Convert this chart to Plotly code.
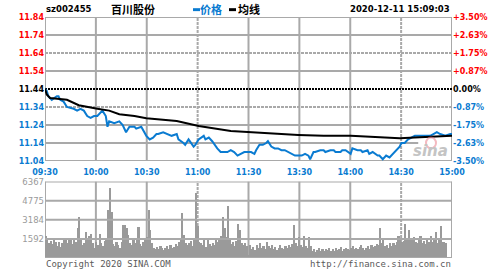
import plotly.graph_objects as go

# ---------------- data ----------------
prev_close = 11.44
stock_code = "sz002455"
stock_name = "百川股份"
timestamp = "2020-12-11 15:09:03"

price_idx = [0, 1, 2, 4, 7, 8, 9, 11, 13, 17, 19, 21, 23, 25, 27, 29, 31, 33, 34, 36, 37, 38, 41, 44, 46, 48,
             50, 53, 54, 57, 59, 60, 62, 64, 66, 67, 70, 73, 75, 78, 79, 82, 83, 85, 88, 89, 91, 94, 95, 97,
             99, 102, 104, 106, 108, 110, 112, 114, 116, 118, 120, 122, 124, 125, 127, 129, 131, 132, 134,
             136, 138, 140, 142, 144, 146, 148, 150, 152, 154, 156, 157, 159, 160, 163, 165, 166, 169, 171,
             172, 175, 176, 178, 181, 182, 185, 187, 188, 191, 192, 194, 197, 198, 200, 202, 204, 206, 208,
             210, 211, 213, 215, 217, 219, 222, 226, 228, 230, 232, 234, 237, 240, 241]
price_val = [11.44, 11.43, 11.40, 11.38, 11.40, 11.40, 11.38, 11.37, 11.34, 11.33, 11.32, 11.33, 11.32, 11.29,
             11.28, 11.29, 11.29, 11.31, 11.32, 11.29, 11.23, 11.26, 11.25, 11.26, 11.24, 11.20, 11.23, 11.23,
             11.22, 11.23, 11.20, 11.18, 11.16, 11.17, 11.19, 11.19, 11.20, 11.19, 11.18, 11.19, 11.16, 11.14,
             11.13, 11.16, 11.12, 11.13, 11.16, 11.18, 11.16, 11.17, 11.15, 11.11, 11.09, 11.09, 11.09, 11.10,
             11.09, 11.07, 11.08, 11.09, 11.09, 11.09, 11.08, 11.10, 11.13, 11.13, 11.14, 11.15, 11.12, 11.11,
             11.11, 11.10, 11.10, 11.09, 11.08, 11.07, 11.07, 11.07, 11.08, 11.07, 11.05, 11.09, 11.09, 11.10,
             11.10, 11.09, 11.10, 11.10, 11.09, 11.09, 11.10, 11.10, 11.08, 11.11, 11.10, 11.10, 11.09, 11.10,
             11.08, 11.09, 11.07, 11.07, 11.05, 11.07, 11.06, 11.08, 11.10, 11.12, 11.14, 11.14, 11.16, 11.17,
             11.18, 11.18, 11.18, 11.18, 11.19, 11.20, 11.19, 11.18, 11.19, 11.19]

avg_idx = [0, 1, 3, 8, 13, 20, 25, 31, 38, 44, 53, 60, 78, 91, 110, 120, 130, 150, 165, 181, 195, 210, 222, 241]
avg_val = [11.44, 11.41, 11.39, 11.385, 11.38, 11.35, 11.34, 11.33, 11.32, 11.30, 11.29, 11.277, 11.262,
           11.235, 11.207, 11.20, 11.195, 11.185, 11.18, 11.18, 11.175, 11.167, 11.172, 11.18]

volume = [1850, 1500, 1300, 1450, 1200, 1550, 1400, 1000, 1350, 980,
          1300, 1650, 1500, 1250, 1700, 1550, 1200, 1650, 1400, 2530,
          3430, 1500, 1100, 1300, 2200, 1600, 1850, 2000, 1250, 900,
          1400, 1150, 2060, 1300, 1000, 1450, 1600, 4000, 5875, 3900,
          1200, 1000, 1400, 1150, 900, 1350, 2770, 2770, 2500, 1950,
          1300, 1100, 1500, 1250, 1650, 2600, 1200, 1050, 1400, 1500,
          1750, 4000, 2360, 1300, 900, 800, 950, 750, 1050, 850,
          700, 900, 1000, 800, 1100, 850, 950, 1200, 1050, 1350,
          1500, 3750, 1950, 1300, 1100, 1250, 1450, 1000, 1700, 5470,
          2690, 1400, 1250, 1100, 1500, 950, 1740, 1200, 1050, 1300,
          1150, 1500, 1350, 1700, 1900, 3430, 2560, 1800, 4380, 1600,
          1200, 1350, 1000, 1450, 2830, 2390, 1300, 1100, 1250, 1050,
          250, 1100, 800, 950, 700, 1150, 900, 1300, 850, 1000,
          750, 1350, 1000, 900, 1150, 800, 950, 700, 850, 1100,
          900, 750, 1000, 850, 1100, 950, 1200, 2750, 1300, 1050,
          1800, 1100, 950, 1850, 1000, 850, 1800, 1050, 600, 750,
          550, 700, 850, 600, 750, 650, 800, 700, 900, 650,
          750, 600, 850, 700, 800, 950, 650, 750, 900, 800,
          700, 850, 1000, 750, 900, 800, 950, 1100, 850, 700,
          900, 1050, 800, 1150, 950, 1000, 1200, 1100, 2530, 1300,
          1520, 1000, 1150, 900, 1250, 1050, 1300, 1100, 1400, 1850,
          1600, 1350, 1450, 2830, 1700, 2390, 1500, 1650, 1800, 1350,
          1250, 1500, 1850, 1300, 1450, 1200, 1600, 1350, 1850, 1400,
          1550, 2200, 1300, 1500, 2690, 1360, 1400, 1300, 0, 0,
          0, 0]

time_labels = ["09:30", "10:00", "10:30", "11:00", "11:30", "13:30", "14:00", "14:30", "15:00"]
price_ticks = [11.04, 11.14, 11.24, 11.34, 11.44, 11.54, 11.64, 11.74, 11.84]
price_labels = ["11.04", "11.14", "11.24", "11.34", "11.44", "11.54", "11.64", "11.74", "11.84"]
pct_labels = ["-3.50%", "-2.63%", "-1.75%", "-0.87%", "0.00%", "+0.87%", "+1.75%", "+2.63%", "+3.50%"]
vol_ticks = [1592, 3184, 4775, 6367]
vol_labels = ["1592", "3184", "4775", "6367"]

# ---------------- styling ----------------
W, H = 500, 275
L, R, T, B = 45, 48, 16, 13
PW, PH = W - L - R, H - T - B
BLUE = "#0a7bd1"
RED = "#ff0000"
GRID = "#a9a9a9"
N = len(volume) - 1

def px_x(x):
    return (x - L) / PW

def px_y(y):
    return (H - B - y) / PH

def color_for(p):
    if p > prev_close + 1e-9:
        return RED
    if p < prev_close - 1e-9:
        return BLUE
    return "#000000"

price_text = [f"<span style='color:{color_for(p)}'>{t}</span>" for p, t in zip(price_ticks, price_labels)]
pct_text = [f"<span style='color:{color_for(p)}'>{t}</span>" for p, t in zip(price_ticks, pct_labels)]
grid_x = [k * N / 8 for k in range(9)]

fig = go.Figure()
fig.add_trace(go.Bar(x=list(range(len(volume))), y=volume, xaxis="x2", yaxis="y3",
                     marker=dict(color="#9a9a9a", line=dict(width=0)), width=1, offset=0,
                     hoverinfo="skip"))
fig.add_trace(go.Scatter(x=price_idx, y=price_val, mode="lines", xaxis="x", yaxis="y",
                         line=dict(color=BLUE, width=2), hoverinfo="skip"))
fig.add_trace(go.Scatter(x=avg_idx, y=avg_val, mode="lines", xaxis="x", yaxis="y2",
                         line=dict(color="#000000", width=2), hoverinfo="skip"))

shapes = []
for p in price_ticks:
    if abs(p - prev_close) < 1e-9:
        continue
    dotted = p in (11.64, 11.34)
    shapes.append(dict(type="line", xref="x", yref="y", x0=0, x1=N, y0=p, y1=p, layer="below",
                       line=dict(color=GRID, width=2, dash="3px,1px" if dotted else "solid")))
for k, gx in enumerate(grid_x):
    dotted = k in (3, 7)
    dash = "3px,1px" if dotted else "solid"
    shapes.append(dict(type="line", xref="x", yref="y", x0=gx, x1=gx, y0=price_ticks[0], y1=price_ticks[-1],
                       layer="below", line=dict(color=GRID, width=2, dash=dash)))
    shapes.append(dict(type="line", xref="x2", yref="y3", x0=gx, x1=gx, y0=0, y1=vol_ticks[-1],
                       layer="below", line=dict(color=GRID, width=2, dash=dash)))
for v in [0] + vol_ticks:
    shapes.append(dict(type="line", xref="x2", yref="y3", x0=0, x1=N, y0=v, y1=v, layer="above",
                       line=dict(color=GRID, width=2)))
shapes.append(dict(type="rect", xref="x", yref="y", x0=221, x1=N - 0.6, y0=11.05, y1=11.162, layer="below",
                   fillcolor="white", line=dict(width=0)))
shapes.append(dict(type="line", xref="x", yref="y", x0=0, x1=N, y0=prev_close, y1=prev_close, layer="below",
                   line=dict(color="#000000", width=2, dash="2px,1px")))
shapes.append(dict(type="rect", xref="paper", yref="paper", x0=px_x(193), x1=px_x(200), y0=px_y(10), y1=px_y(7),
                   fillcolor=BLUE, line=dict(width=0)))
shapes.append(dict(type="rect", xref="paper", yref="paper", x0=px_x(229), x1=px_x(236), y0=px_y(10), y1=px_y(7),
                   fillcolor="#000000", line=dict(width=0)))
shapes.append(dict(type="circle", xref="paper", yref="paper", x0=px_x(426), x1=px_x(436), y0=px_y(150), y1=px_y(139),
                   line=dict(color="rgba(235,130,140,0.55)", width=2)))

num_font = dict(family="DejaVu Sans", size=8, weight="bold")

annotations = [
    dict(text=stock_code, x=px_x(45), y=px_y(8), xanchor="left", yanchor="middle",
         font=dict(family="DejaVu Sans", size=8.5, color="#000", weight="bold")),
    dict(text=stock_name, x=px_x(110), y=px_y(8), xanchor="left", yanchor="middle",
         font=dict(family="Noto Sans CJK SC", size=11, color="#000", weight="bold")),
    dict(text="价格", x=px_x(199), y=px_y(8), xanchor="left", yanchor="middle",
         font=dict(family="Noto Sans CJK SC", size=11, color=BLUE, weight="bold")),
    dict(text="均线", x=px_x(237), y=px_y(8), xanchor="left", yanchor="middle",
         font=dict(family="Noto Sans CJK SC", size=11, color="#000", weight="bold")),
    dict(text=timestamp, x=px_x(451), y=px_y(8), xanchor="right", yanchor="middle",
         font=dict(family="DejaVu Sans", size=8.5, color="#000", weight="bold")),
    dict(text="Copyright 2020 SINA.COM", x=px_x(45), y=px_y(268), xanchor="left", yanchor="middle",
         font=dict(family="DejaVu Sans Mono", size=9, color="#5a5a5a")),
    dict(text="http://finance.sina.com.cn", x=px_x(452), y=px_y(268), xanchor="right", yanchor="middle",
         font=dict(family="DejaVu Sans Mono", size=9, color="#5a5a5a")),
    dict(text="<b><i>sina</i></b>", x=px_x(430), y=px_y(153), xanchor="center", yanchor="middle",
         font=dict(family="DejaVu Sans", size=15, color="#c4c4c4")),
]
for a in annotations:
    a.update(xref="paper", yref="paper", showarrow=False, borderpad=0)

axis_common = dict(showgrid=False, zeroline=False, showline=False, ticks="", fixedrange=True)

fig.update_layout(
    width=W, height=H, margin=dict(l=L, r=R, t=T, b=B, pad=0),
    paper_bgcolor="white", plot_bgcolor="white", showlegend=False, bargap=0,
    xaxis=dict(domain=[0, 1], range=[0, N], anchor="y", tickvals=grid_x, ticktext=time_labels,
               tickfont=dict(num_font, color=BLUE), tickangle=0, ticklabelstandoff=5, **axis_common),
    xaxis2=dict(domain=[0, 1], range=[0, N], anchor="y3", showticklabels=False, **axis_common),
    yaxis=dict(domain=[(H - B - 163) / PH, 1], range=[price_ticks[0], price_ticks[-1]], anchor="x",
               tickvals=price_ticks, ticktext=price_text, tickfont=num_font, **axis_common),
    yaxis2=dict(overlaying="y", side="right", anchor="x", range=[price_ticks[0], price_ticks[-1]],
                tickvals=price_ticks, ticktext=pct_text, tickfont=num_font, **axis_common),
    yaxis3=dict(domain=[0, (H - B - 184) / PH], range=[0, vol_ticks[-1]], anchor="x2",
                tickvals=vol_ticks, ticktext=vol_labels,
                tickfont=dict(family="DejaVu Sans", size=8.5, color="#9a9a9a"), **axis_common),
    shapes=shapes, annotations=annotations,
)

fig.write_html("out.html", config={"displayModeBar": False})
